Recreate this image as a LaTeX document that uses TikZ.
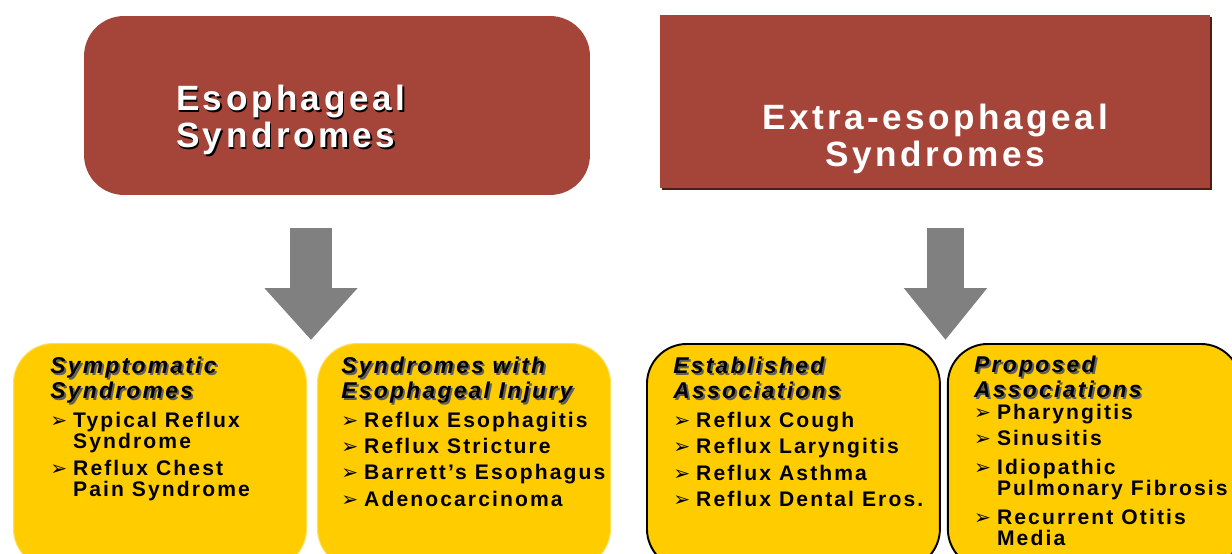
\documentclass[tikz,border=0pt]{standalone}
\usepackage{fontspec}
\setmainfont{Liberation Sans}
\newfontfamily\spacedfont{Liberation Sans}[LetterSpace=10]
\newfontfamily\symfont{DejaVu Sans}
\usepackage{tikz}
\usetikzlibrary{arrows.meta, positioning, shadows}
\definecolor{myrust}{RGB}{165,69,58}
\definecolor{myshade}{RGB}{80,28,22}
\definecolor{myyellow}{RGB}{255,204,0}
\definecolor{myedge}{RGB}{255,222,90}
\definecolor{mygray}{RGB}{128,128,128}
\definecolor{mytitleshade}{RGB}{95,95,95}
% text with a small offset shadow
\newcommand{\shd}[2]{\leavevmode\rlap{\kern1.1pt\raisebox{-1.1pt}{\textcolor{#1}{#2}}}#2}
\newcommand{\bul}{\makebox[13pt][l]{\symfont\fontsize{11.5}{12}\selectfont ➢}}
\newcommand{\ind}{\hspace*{13pt}}
\tikzset{
  headround/.style={rectangle, fill=myrust, draw=none, rounded corners=0.8cm,
    minimum width=10.12cm, minimum height=3.58cm},
  headsquare/.style={rectangle, fill=myrust, draw=none,
    minimum width=11cm, minimum height=3.46cm,
    drop shadow={shadow xshift=0.045cm, shadow yshift=-0.045cm, fill=myshade, opacity=1}},
  headtext/.style={text=white, inner sep=0pt, font=\spacedfont\bfseries\fontsize{20}{21}\selectfont},
  groupbox/.style={rectangle, fill=myyellow, draw=myedge, line width=0.6pt,
    rounded corners=0.8cm, minimum width=5.86cm, minimum height=4.5cm},
  groupline/.style={groupbox, draw=black, line width=1.1pt},
  grouptitle/.style={inner sep=0pt, align=left,
    font=\spacedfont\bfseries\itshape\fontsize{13}{14}\selectfont},
  itemlist/.style={inner sep=0pt, align=left,
    font=\spacedfont\bfseries\fontsize{12}{12}\selectfont},
  bigarrow/.style={draw=mygray, line width=0.84cm,
    -{Triangle[width=1.8cm, length=1.04cm]}},
  smallarrow/.style={draw=mygray, line width=0.74cm,
    -{Triangle[width=1.6cm, length=1.04cm]}}
}
\begin{document}
\begin{tikzpicture}[x=0.02cm, y=-0.02cm]
  \useasboundingbox (0,0) rectangle (1232,554);
  \clip (0,0) rectangle (1232,554);

  % Top boxes
  \node[headround] (eso) at (337,105.5) {};
  \node[headsquare] (extra) at (935,101.5) {};
  \node[headtext, align=left, below right=1.38cm and 1.84cm of eso.north west, anchor=north west]
    (esotext) {\shd{black}{Esophageal}\\\shd{black}{Syndromes}};
  \node[headtext, align=center, below=1.78cm of extra.north] (extratext) {Extra-esophageal\\Syndromes};

  % Block arrows
  \coordinate (arrLtop) at (311,228);
  \coordinate (arrLtip) at (311,340);
  \coordinate (arrRtop) at (945.5,228);
  \coordinate (arrRtip) at (945.5,340);
  \draw[bigarrow] (arrLtop) -- (arrLtip);
  \draw[smallarrow] (arrRtop) -- (arrRtip);

  % Bottom boxes
  \node[groupbox, anchor=north west] (sym) at (13,343) {};
  \node[groupbox, right=0.2cm of sym] (inj) {};
  \node[groupline, anchor=north west] (est) at (646,343) {};
  \node[groupline, right=0.12cm of est] (prop) {};

  % Titles
  \node[grouptitle, below right=0.28cm and 0.74cm of sym.north west, anchor=north west] (symtitle)
    {\shd{mytitleshade}{Symptomatic}\\\shd{mytitleshade}{Syndromes}};
  \node[grouptitle, below right=0.28cm and 0.48cm of inj.north west, anchor=north west] (injtitle)
    {\shd{mytitleshade}{Syndromes with}\\\shd{mytitleshade}{Esophageal Injury}};
  \node[grouptitle, below right=0.28cm and 0.54cm of est.north west, anchor=north west] (esttitle)
    {\shd{mytitleshade}{Established}\\\shd{mytitleshade}{Associations}};
  \node[grouptitle, below right=0.26cm and 0.54cm of prop.north west, anchor=north west] (proptitle)
    {\shd{mytitleshade}{Proposed}\\\shd{mytitleshade}{Associations}};

  % Lists
  \node[itemlist, below=0.12cm of symtitle.south west, anchor=north west] (symlist)
    {\bul Typical Reflux\\\ind Syndrome\\[3.5pt]\bul Reflux Chest\\\ind Pain Syndrome};
  \node[itemlist, below=0.12cm of injtitle.south west, anchor=north west] (injlist)
    {\bul Reflux Esophagitis\\[3pt]\bul Reflux Stricture\\[3pt]\bul Barrett’s Esophagus\\[3pt]\bul Adenocarcinoma};
  \node[itemlist, below=0.22cm of esttitle.south west, anchor=north west] (estlist)
    {\bul Reflux Cough\\[3pt]\bul Reflux Laryngitis\\[3pt]\bul Reflux Asthma\\[3pt]\bul Reflux Dental Eros.};
  \node[itemlist, below=0.08cm of proptitle.south west, anchor=north west] (proplist)
    {\bul Pharyngitis\\[3pt]\bul Sinusitis\\[4pt]\bul Idiopathic\\\ind Pulmonary Fibrosis\\[4.5pt]\bul Recurrent Otitis\\\ind Media};
\end{tikzpicture}
\end{document}
